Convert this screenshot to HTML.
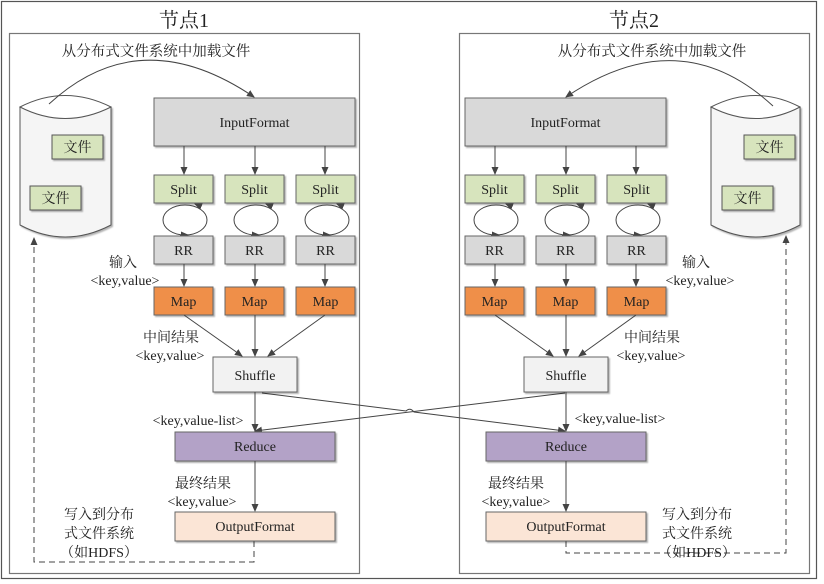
<!DOCTYPE html>
<html><head><meta charset="utf-8"><style>
html,body{margin:0;padding:0;background:#fff;}
svg{display:block;font-family:"Liberation Serif","Noto Serif CJK SC","Noto Sans CJK SC",serif;}
text{font-family:"Liberation Serif","Noto Serif CJK SC","Noto Sans CJK SC",serif;fill:#222;}
.t{font-size:14px;text-anchor:middle;}
.c{font-size:13.5px;}
.ln{stroke:#444;stroke-width:1;fill:none;}
</style></head><body>
<svg width="824" height="584" viewBox="0 0 824 584" xmlns="http://www.w3.org/2000/svg">
<defs>
<marker id="a" markerWidth="8" markerHeight="8" refX="7" refY="4" orient="auto" markerUnits="userSpaceOnUse"><path d="M0,0.5 L8,4 L0,7.5 Z" fill="#444"/></marker>
<filter id="s" x="-10%" y="-10%" width="130%" height="140%"><feDropShadow dx="1.5" dy="1.5" stdDeviation="0.8" flood-color="#000" flood-opacity="0.3"/></filter>
</defs>
<rect x="1.5" y="1.5" width="815" height="577" fill="#fff" stroke="#555" stroke-width="1.2"/>
<rect x="9.5" y="33.5" width="350" height="540" fill="#fff" stroke="#777" stroke-width="1.2"/>
<rect x="459.5" y="33.5" width="350" height="540" fill="#fff" stroke="#777" stroke-width="1.2"/>
<text x="184" y="27" style="font-size:20px;text-anchor:middle">节点1</text>
<text x="634" y="27" style="font-size:20px;text-anchor:middle">节点2</text>
<text x="156" y="56" class="c" style="font-size:14.5px;text-anchor:middle">从分布式文件系统中加载文件</text>
<text x="652" y="56" class="c" style="font-size:14.5px;text-anchor:middle">从分布式文件系统中加载文件</text>

<!-- left cylinder -->
<path d="M20,107 L20,225 Q65,249 111,225 L111,107 Z" fill="#f5f5f5" stroke="#555" filter="url(#s)"/>
<path d="M20,107 Q65,84 111,107 Q65,130 20,107 Z" fill="#fff" stroke="#555"/>
<rect x="52" y="135" width="51" height="24" fill="#d7e4bd" stroke="#555" filter="url(#s)"/>
<text x="77.5" y="152" class="t">文件</text>
<rect x="30" y="186" width="51" height="24" fill="#d7e4bd" stroke="#555" filter="url(#s)"/>
<text x="55.5" y="203" class="t">文件</text>
<path d="M49,104 Q140,20 254,97" class="ln" marker-end="url(#a)"/>
<path d="M254,541 L254,562 L34,562 L34,238" class="ln" stroke-dasharray="6,4" marker-end="url(#a)"/>

<!-- right cylinder -->
<path d="M711,107 L711,225 Q756,249 800,225 L800,107 Z" fill="#f5f5f5" stroke="#555" filter="url(#s)"/>
<path d="M711,107 Q756,84 800,107 Q756,130 711,107 Z" fill="#fff" stroke="#555"/>
<rect x="744" y="135" width="51" height="24" fill="#d7e4bd" stroke="#555" filter="url(#s)"/>
<text x="769.5" y="152" class="t">文件</text>
<rect x="722" y="186" width="51" height="24" fill="#d7e4bd" stroke="#555" filter="url(#s)"/>
<text x="747.5" y="203" class="t">文件</text>
<path d="M773,106 Q680,20 566,97" class="ln" marker-end="url(#a)"/>
<path d="M566,541 L566,553 L786,553 L786,236" class="ln" stroke-dasharray="6,4" marker-end="url(#a)"/>

<!-- cross lines -->
<path d="M262,393 L406,411 Q410,407 414,412 L565,431" class="ln" marker-end="url(#a)"/>
<path d="M565,393 L255,431" class="ln" marker-end="url(#a)"/>

<g>
<rect x="154" y="98" width="201" height="48" fill="#d9d9d9" stroke="#666" filter="url(#s)"/>
<text x="254.5" y="127" class="t">InputFormat</text>
<path d="M184,146 L184,174" class="ln" marker-end="url(#a)"/>
<path d="M255,146 L255,174" class="ln" marker-end="url(#a)"/>
<path d="M325,146 L325,174" class="ln" marker-end="url(#a)"/>
<g fill="#d7e4bd" stroke="#666" filter="url(#s)">
<rect x="154" y="175" width="59" height="28"/><rect x="225" y="175" width="59" height="28"/><rect x="296" y="175" width="59" height="28"/>
</g>
<text x="183.5" y="194" class="t">Split</text><text x="254.5" y="194" class="t">Split</text><text x="325.5" y="194" class="t">Split</text>
<g class="ln">
<ellipse cx="185" cy="220" rx="22" ry="15"/>
<ellipse cx="256" cy="220" rx="22" ry="15"/>
<ellipse cx="327" cy="220" rx="22" ry="15"/>
<path d="M180,235 L188,235" marker-end="url(#a)"/>
<path d="M200,206 L195,204" marker-end="url(#a)"/>
<path d="M251,235 L259,235" marker-end="url(#a)"/>
<path d="M271,206 L266,204" marker-end="url(#a)"/>
<path d="M322,235 L330,235" marker-end="url(#a)"/>
<path d="M342,206 L337,204" marker-end="url(#a)"/>
</g>
<g fill="#d9d9d9" stroke="#666" filter="url(#s)">
<rect x="154" y="236" width="59" height="28"/><rect x="225" y="236" width="59" height="28"/><rect x="296" y="236" width="59" height="28"/>
</g>
<text x="183.5" y="255" class="t">RR</text><text x="254.5" y="255" class="t">RR</text><text x="325.5" y="255" class="t">RR</text>
<path d="M184,264 L184,286" class="ln" marker-end="url(#a)"/>
<path d="M255,264 L255,286" class="ln" marker-end="url(#a)"/>
<path d="M325,264 L325,286" class="ln" marker-end="url(#a)"/>
<g fill="#ef8f4a" stroke="#666" filter="url(#s)">
<rect x="154" y="287" width="59" height="28"/><rect x="225" y="287" width="59" height="28"/><rect x="296" y="287" width="59" height="28"/>
</g>
<text x="183.5" y="306" class="t">Map</text><text x="254.5" y="306" class="t">Map</text><text x="325.5" y="306" class="t">Map</text>
<path d="M184,315 L242,356" class="ln" marker-end="url(#a)"/>
<path d="M255,315 L255,356" class="ln" marker-end="url(#a)"/>
<path d="M325,315 L268,356" class="ln" marker-end="url(#a)"/>
<rect x="213" y="357" width="84" height="35" fill="#f2f2f2" stroke="#666" filter="url(#s)"/>
<text x="255" y="380" class="t">Shuffle</text>
<path d="M255,392 L255,431" class="ln" marker-end="url(#a)"/>
<rect x="175" y="432" width="160" height="29" fill="#b3a2c7" stroke="#666" filter="url(#s)"/>
<text x="255" y="451" class="t">Reduce</text>
<path d="M255,461 L255,511" class="ln" marker-end="url(#a)"/>
<rect x="175" y="512" width="160" height="29" fill="#fbe5d6" stroke="#666" filter="url(#s)"/>
<text x="255" y="531" class="t">OutputFormat</text>
</g>

<g transform="translate(311,0)">
<rect x="154" y="98" width="201" height="48" fill="#d9d9d9" stroke="#666" filter="url(#s)"/>
<text x="254.5" y="127" class="t">InputFormat</text>
<path d="M184,146 L184,174" class="ln" marker-end="url(#a)"/>
<path d="M255,146 L255,174" class="ln" marker-end="url(#a)"/>
<path d="M325,146 L325,174" class="ln" marker-end="url(#a)"/>
<g fill="#d7e4bd" stroke="#666" filter="url(#s)">
<rect x="154" y="175" width="59" height="28"/><rect x="225" y="175" width="59" height="28"/><rect x="296" y="175" width="59" height="28"/>
</g>
<text x="183.5" y="194" class="t">Split</text><text x="254.5" y="194" class="t">Split</text><text x="325.5" y="194" class="t">Split</text>
<g class="ln">
<ellipse cx="185" cy="220" rx="22" ry="15"/>
<ellipse cx="256" cy="220" rx="22" ry="15"/>
<ellipse cx="327" cy="220" rx="22" ry="15"/>
<path d="M180,235 L188,235" marker-end="url(#a)"/>
<path d="M200,206 L195,204" marker-end="url(#a)"/>
<path d="M251,235 L259,235" marker-end="url(#a)"/>
<path d="M271,206 L266,204" marker-end="url(#a)"/>
<path d="M322,235 L330,235" marker-end="url(#a)"/>
<path d="M342,206 L337,204" marker-end="url(#a)"/>
</g>
<g fill="#d9d9d9" stroke="#666" filter="url(#s)">
<rect x="154" y="236" width="59" height="28"/><rect x="225" y="236" width="59" height="28"/><rect x="296" y="236" width="59" height="28"/>
</g>
<text x="183.5" y="255" class="t">RR</text><text x="254.5" y="255" class="t">RR</text><text x="325.5" y="255" class="t">RR</text>
<path d="M184,264 L184,286" class="ln" marker-end="url(#a)"/>
<path d="M255,264 L255,286" class="ln" marker-end="url(#a)"/>
<path d="M325,264 L325,286" class="ln" marker-end="url(#a)"/>
<g fill="#ef8f4a" stroke="#666" filter="url(#s)">
<rect x="154" y="287" width="59" height="28"/><rect x="225" y="287" width="59" height="28"/><rect x="296" y="287" width="59" height="28"/>
</g>
<text x="183.5" y="306" class="t">Map</text><text x="254.5" y="306" class="t">Map</text><text x="325.5" y="306" class="t">Map</text>
<path d="M184,315 L242,356" class="ln" marker-end="url(#a)"/>
<path d="M255,315 L255,356" class="ln" marker-end="url(#a)"/>
<path d="M325,315 L268,356" class="ln" marker-end="url(#a)"/>
<rect x="213" y="357" width="84" height="35" fill="#f2f2f2" stroke="#666" filter="url(#s)"/>
<text x="255" y="380" class="t">Shuffle</text>
<path d="M255,392 L255,431" class="ln" marker-end="url(#a)"/>
<rect x="175" y="432" width="160" height="29" fill="#b3a2c7" stroke="#666" filter="url(#s)"/>
<text x="255" y="451" class="t">Reduce</text>
<path d="M255,461 L255,511" class="ln" marker-end="url(#a)"/>
<rect x="175" y="512" width="160" height="29" fill="#fbe5d6" stroke="#666" filter="url(#s)"/>
<text x="255" y="531" class="t">OutputFormat</text>
</g>

<!-- left labels -->
<text x="123" y="267" class="t">输入</text>
<text x="125" y="285" class="t">&lt;key,value&gt;</text>
<text x="171" y="342" class="t">中间结果</text>
<text x="170" y="360" class="t">&lt;key,value&gt;</text>
<text x="198" y="425" class="t">&lt;key,value-list&gt;</text>
<text x="203" y="488" class="t">最终结果</text>
<text x="202" y="506" class="t">&lt;key,value&gt;</text>
<text x="99" y="519" class="t">写入到分布</text>
<text x="99" y="538" class="t">式文件系统</text>
<text x="99" y="557" class="t">（如HDFS）</text>
<!-- right labels -->
<text x="696" y="267" class="t">输入</text>
<text x="700" y="285" class="t">&lt;key,value&gt;</text>
<text x="652" y="342" class="t">中间结果</text>
<text x="651" y="360" class="t">&lt;key,value&gt;</text>
<text x="620" y="423" class="t">&lt;key,value-list&gt;</text>
<text x="516" y="488" class="t">最终结果</text>
<text x="516" y="506" class="t">&lt;key,value&gt;</text>
<text x="697" y="519" class="t">写入到分布</text>
<text x="697" y="538" class="t">式文件系统</text>
<text x="697" y="557" class="t">（如HDFS）</text>
</svg>
</body></html>
